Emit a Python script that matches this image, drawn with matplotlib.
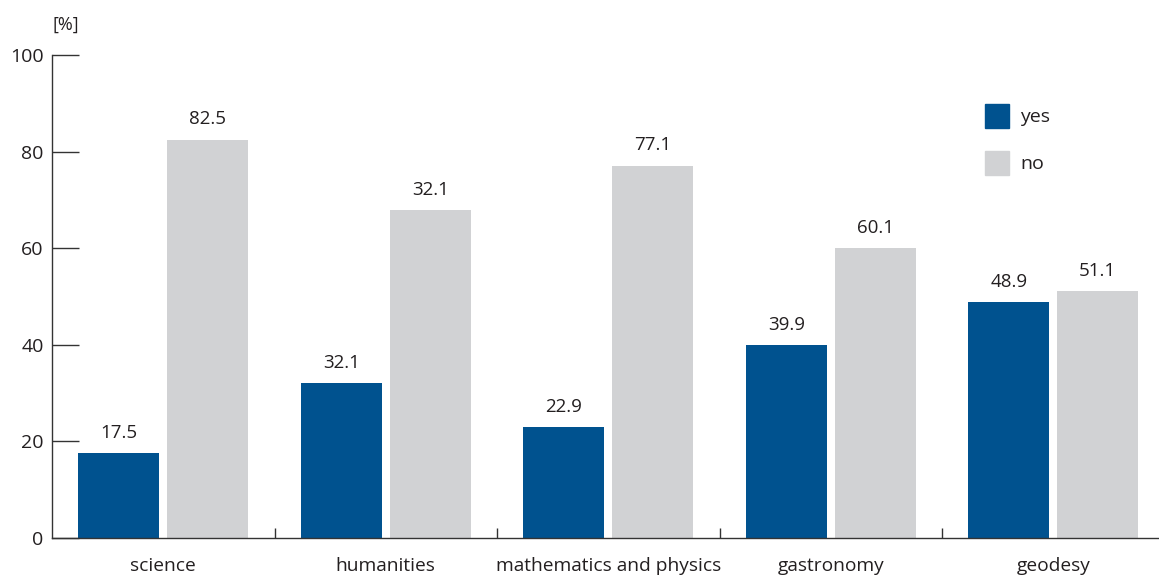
import matplotlib.pyplot as plt
from matplotlib.patches import Rectangle
import numpy as np

# datos
categories = ["science", "humanities", "mathematics and physics", "gastronomy", "geodesy"]
yes_vals = [17.5, 32.1, 22.9, 39.9, 48.9]
no_vals = [82.5, 67.9, 77.1, 60.1, 51.1]
# etiquetas tal como aparecen en el original
yes_labels = ["17.5", "32.1", "22.9", "39.9", "48.9"]
no_labels = ["82.5", "32.1", "77.1", "60.1", "51.1"]
y_ticks = [0, 20, 40, 60, 80, 100]
series_names = ["yes", "no"]

blue = "#00528f"
gray = "#d1d2d4"
txt = "#231f20"

plt.rcParams['font.family'] = ['Open Sans', 'DejaVu Sans']

W, H = 1159, 576
fig = plt.figure(figsize=(W / 100, H / 100), dpi=100)
ax = fig.add_axes([52 / W, 1 - 538 / H, 1 - 52 / W, (538 - 55) / H])

x = np.arange(len(categories))
w = 0.364
b1 = ax.bar(x + 0.3, yes_vals, width=w, color=blue)
b2 = ax.bar(x + 0.7, no_vals, width=w, color=gray)

for bars, labels in [(b1, yes_labels), (b2, no_labels)]:
    for rect, lab in zip(bars, labels):
        ax.text(rect.get_x() + rect.get_width() / 2, rect.get_height() + 2.3, lab,
                ha="center", va="bottom", fontsize=13.5, color=txt)

ax.set_xlim(0, 4.975)
ax.set_ylim(0, 100)

for s in ["top", "right"]:
    ax.spines[s].set_visible(False)
for s in ["left", "bottom"]:
    ax.spines[s].set_color("#333333")
    ax.spines[s].set_linewidth(1.0)

ax.set_yticks(y_ticks)
ax.tick_params(axis="y", direction="in", length=19.5, width=1.0, color="#333333",
               labelsize=14, pad=6, labelcolor=txt)
ax.set_xticks(x + 0.5)
ax.set_xticklabels(categories)
ax.tick_params(axis="x", which="major", length=0, labelsize=13.8, pad=14, labelcolor=txt)
ax.set_xticks([1, 2, 3, 4], minor=True)
ax.tick_params(axis="x", which="minor", direction="in", length=7, width=1.0, color="#333333")

fig.text(52 / W, 1 - 25 / H, "[%]", fontsize=13, va="center", ha="left", color=txt)

# leyenda manual
for i, (name, col) in enumerate(zip(series_names, [blue, gray])):
    top = 104 + i * 47
    fig.add_artist(Rectangle((985 / W, 1 - (top + 24) / H), 24 / W, 24 / H,
                             transform=fig.transFigure, color=col))
    fig.text(1020 / W, 1 - (top + 13) / H, name, fontsize=14, va="center", ha="left", color=txt)

fig.savefig("out.png", dpi=100)
